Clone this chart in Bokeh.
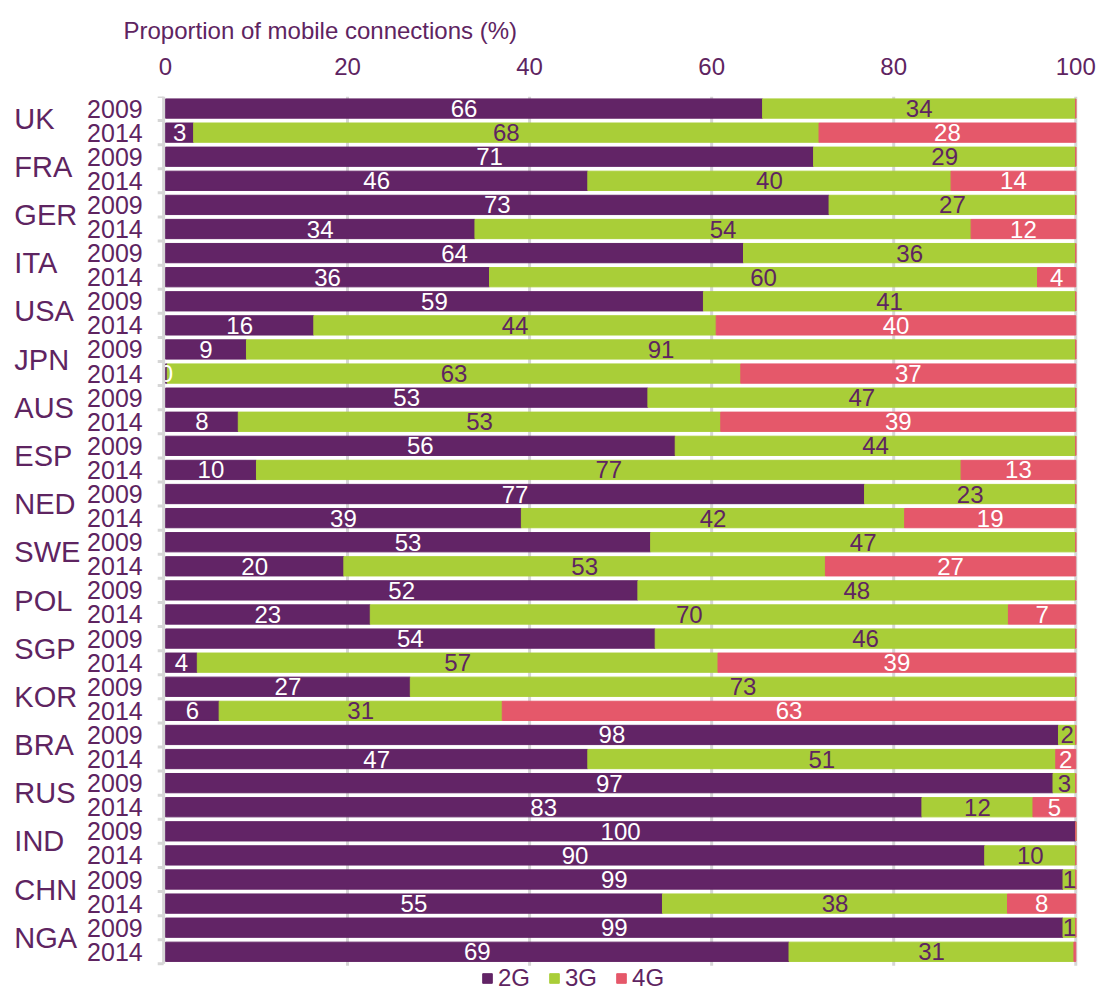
import numpy as np
from bokeh.plotting import figure
from bokeh.models import (ColumnDataSource, Range1d, FixedTicker,
                          Legend, LegendItem)
from bokeh.embed import file_html
from bokeh.resources import INLINE
from bokeh.core.properties import value

# ---------------- data ----------------
countries = ["UK", "FRA", "GER", "ITA", "USA", "JPN", "AUS", "ESP", "NED",
             "SWE", "POL", "SGP", "KOR", "BRA", "RUS", "IND", "CHN", "NGA"]
years = ["2009", "2014"]

# share of connections (%), rows ordered country by country: 2009, 2014
share_2g = [65.6, 3.1, 71.2, 46.4, 72.9, 34.0, 63.5, 35.6, 59.1, 16.3,
            8.9, 0.2, 53.0, 8.0, 56.0, 10.0, 76.8, 39.1, 53.3, 19.6,
            51.9, 22.5, 53.8, 3.5, 26.9, 5.9, 98.1, 46.4, 97.5, 83.1,
            100.0, 90.0, 98.6, 54.6, 98.6, 68.5]
share_3g = [34.4, 68.7, 28.8, 39.9, 27.1, 54.5, 36.5, 60.2, 40.9, 44.2,
            91.1, 63.0, 47.0, 53.0, 44.0, 77.4, 23.2, 42.1, 46.7, 52.9,
            48.1, 70.1, 46.2, 57.2, 73.1, 31.1, 1.9, 51.4, 2.5, 12.2,
            0.0, 10.0, 1.4, 37.9, 1.4, 31.3]
share_4g = [0.0, 28.2, 0.0, 13.7, 0.0, 11.5, 0.0, 4.2, 0.0, 39.5,
            0.0, 36.8, 0.0, 39.0, 0.0, 12.6, 0.0, 18.8, 0.0, 27.5,
            0.0, 7.4, 0.0, 39.3, 0.0, 63.0, 0.0, 2.2, 0.0, 4.7,
            0.0, 0.0, 0.0, 7.5, 0.0, 0.2]

# value labels printed on the bars (None = not printed)
labels_2g = [66, 3, 71, 46, 73, 34, 64, 36, 59, 16, 9, 0, 53, 8, 56, 10, 77, 39,
             53, 20, 52, 23, 54, 4, 27, 6, 98, 47, 97, 83, 100, 90, 99, 55, 99, 69]
labels_3g = [34, 68, 29, 40, 27, 54, 36, 60, 41, 44, 91, 63, 47, 53, 44, 77, 23, 42,
             47, 53, 48, 70, 46, 57, 73, 31, 2, 51, 3, 12, None, 10, 1, 38, 1, 31]
labels_4g = [None, 28, None, 14, None, 12, None, 4, None, 40, None, 37, None, 39,
             None, 13, None, 19, None, 27, None, 7, None, 39, None, 63, None, 2,
             None, 5, None, None, None, 8, None, None]

x_ticks = [0, 20, 40, 60, 80, 100]
axis_title = "Proportion of mobile connections (%)"

# ---------------- styling ----------------
C2 = "#622466"
C3 = "#a9ce38"
C4 = "#e5586a"
TXT = "#5e2461"
GRID = "#d6d6d6"
FONT = "Liberation Sans"

n = len(share_2g)
ypos = np.arange(n) + 0.5
s2 = np.array(share_2g)
s3 = np.array(share_3g)
s4 = np.array(share_4g)
l2, r2 = np.zeros(n), s2
l3, r3 = r2, r2 + s3
l4, r4 = r3, r3 + s4

src = ColumnDataSource(dict(y=ypos, l2=l2, r2=r2, l3=l3, r3=r3, l4=l4, r4=r4))

# the frame spans the whole width (label column lies left of 0) and reaches the
# bottom of the page so the legend can sit under the bars
X_MIN, X_MAX = -18.12, 100.3
Y_BOTTOM = n + 1.19
p = figure(width=1099, height=992, x_range=Range1d(X_MIN, X_MAX),
           y_range=Range1d(Y_BOTTOM, 0),
           x_axis_location="above", y_axis_location=None,
           output_backend="svg", toolbar_location=None,
           min_border_left=0, min_border_right=21, min_border_top=96,
           min_border_bottom=0, outline_line_color=None)
p.xgrid.grid_line_color = None
p.ygrid.grid_line_color = None

# vertical grid lines (only over the bar area)
gx = np.array(x_ticks[1:], dtype=float)
p.segment(x0=gx, x1=gx, y0=np.zeros(len(gx)), y1=np.full(len(gx), n + 0.08),
          line_color=GRID, line_width=3, level="underlay")

BH = 0.8
rb2 = p.hbar(y="y", left="l2", right="r2", height=BH, color=C2, source=src)
rb3 = p.hbar(y="y", left="l3", right="r3", height=BH, color=C3, source=src)
rb4 = p.hbar(y="y", left="l4", right="r4", height=BH, color=C4, source=src)


def add_labels(left, right, labels, color):
    xs, ys, ts = [], [], []
    for i, lab in enumerate(labels):
        if lab is None:
            continue
        xs.append((left[i] + right[i]) / 2.0)
        ys.append(ypos[i])
        ts.append(str(lab))
    s = ColumnDataSource(dict(x=xs, y=ys, t=ts))
    p.text(x="x", y="y", text="t", source=s, text_align="center",
           text_baseline="middle", text_font=value(FONT), text_font_size="24px",
           text_color=color)


add_labels(l2, r2, labels_2g, "white")
add_labels(l3, r3, labels_3g, TXT)
add_labels(l4, r4, labels_4g, "white")

# top axis
xa = p.xaxis[0]
xa.ticker = FixedTicker(ticks=x_ticks)
xa.axis_line_color = None
xa.major_tick_line_color = None
xa.minor_tick_line_color = None
xa.major_label_text_font = FONT
xa.major_label_text_font_size = "24px"
xa.major_label_text_color = TXT
xa.major_label_standoff = 16

# left category axis: line + boundary ticks
bounds = np.arange(n + 1, dtype=float)
p.segment(x0=[-0.2], x1=[-0.2], y0=[0], y1=[n], line_color=GRID, line_width=3)
p.segment(x0=np.full(n + 1, -0.85), x1=np.full(n + 1, -0.2), y0=bounds, y1=bounds,
          line_color=GRID, line_width=3)

# year labels and country labels
yr_src = ColumnDataSource(dict(x=[-2.5] * n, y=list(ypos),
                               t=[years[i % 2] for i in range(n)]))
p.text(x="x", y="y", text="t", source=yr_src, text_align="right",
       text_baseline="middle", text_font=value(FONT), text_font_size="25px",
       text_color=TXT)
ct_src = ColumnDataSource(dict(x=[-16.6] * len(countries),
                               y=[2 * k + 0.92 for k in range(len(countries))],
                               t=countries))
p.text(x="x", y="y", text="t", source=ct_src, text_align="left",
       text_baseline="middle", text_font=value(FONT), text_font_size="29px",
       text_color=TXT)

# chart title (top-left)
p.title.text = axis_title
p.title.align = "left"
p.title.offset = 123
p.title.text_font = FONT
p.title.text_font_size = "24px"
p.title.text_font_style = "normal"
p.title.text_color = TXT
p.title.standoff = 21

legend = Legend(items=[LegendItem(label="2G", renderers=[rb2]),
                       LegendItem(label="3G", renderers=[rb3]),
                       LegendItem(label="4G", renderers=[rb4])],
                orientation="horizontal", location=(481, 0))
legend.label_text_font = FONT
legend.label_text_font_size = "24px"
legend.label_text_color = TXT
legend.glyph_width = 12
legend.glyph_height = 12
legend.label_standoff = 5
legend.spacing = 18
legend.padding = 0
legend.margin = 0
legend.border_line_color = None
legend.background_fill_alpha = 0
p.add_layout(legend, "center")

open("out.html", "w").write(file_html(p, INLINE))
